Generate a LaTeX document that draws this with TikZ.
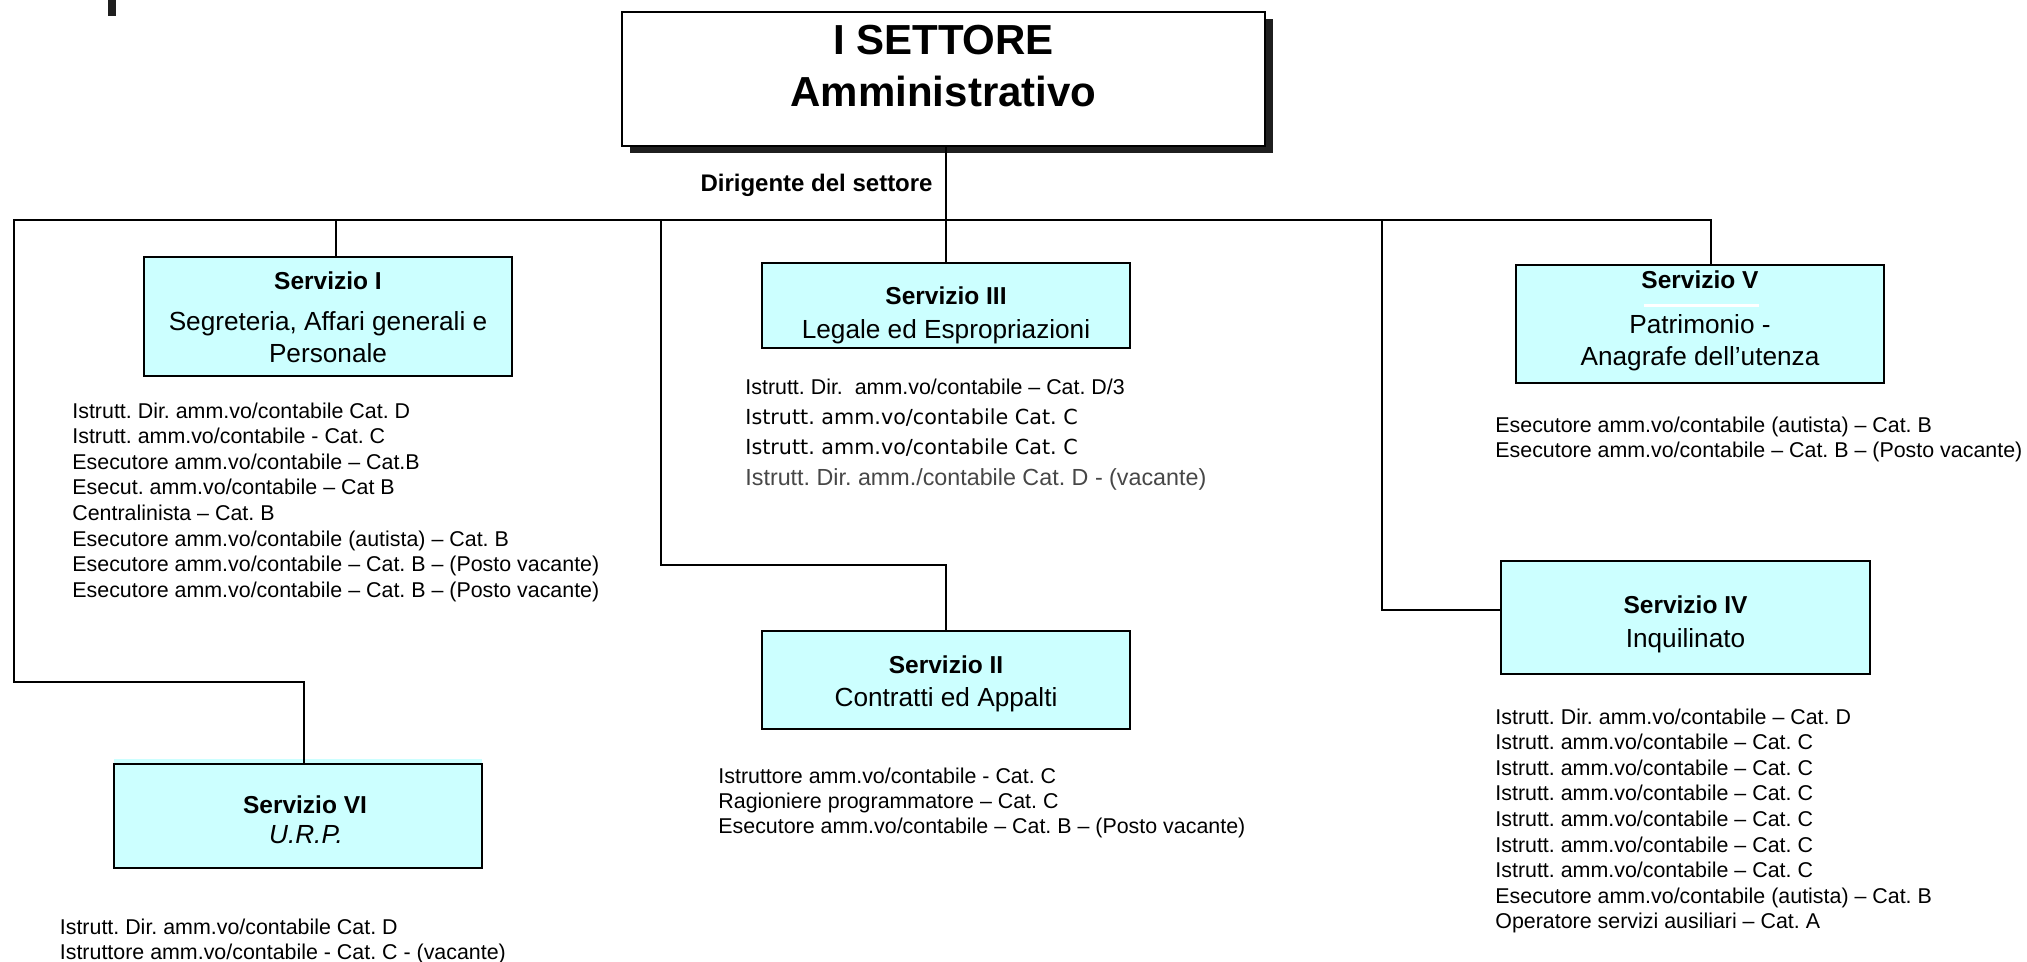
\documentclass[tikz,border=0pt]{standalone}
\usepackage{fontspec}
\setmainfont{Liberation Sans}
\newfontfamily\dejavu{DejaVu Sans}
\usetikzlibrary{shadows}
\definecolor{boxcyan}{HTML}{CCFFFF}
\frenchspacing
\begin{document}
\begin{tikzpicture}[x=0.5pt,y=-0.5pt,
  svcbox/.style={draw, line width=1.35pt, fill=boxcyan, inner sep=0pt, rectangle},
  lst/.style={anchor=base west, inner sep=0pt, font=\fontsize{10.7pt}{12pt}\selectfont},
  btitle/.style={anchor=base, inner sep=0pt, font=\bfseries\fontsize{12.25pt}{14pt}\selectfont},
  dtitle/.style={anchor=base, inner sep=0pt, font=\fontsize{13.1pt}{15pt}\selectfont},
  conn/.style={line width=1pt}]
\useasboundingbox (0,0) rectangle (2027,962);
\fill[black!88] (108,0) rectangle (116,16);

% top box
\node[draw, line width=1pt, fill=white, rectangle, inner sep=0pt,
      minimum width=321.5pt, minimum height=67pt,
      drop shadow={shadow xshift=4pt, shadow yshift=-3.5pt, fill=black!88, opacity=1}]
      (top) at (943.5,79) {};
\node[anchor=base, inner sep=0pt, font=\bfseries\fontsize{21pt}{24pt}\selectfont] (t1) at (943.5,55) {I SETTORE};
\node[anchor=base, inner sep=0pt, font=\bfseries\fontsize{21pt}{24pt}\selectfont] (t2) at (943.5,107) {Amministrativo};
\node[anchor=base east, inner sep=0pt, font=\bfseries\fontsize{12pt}{14pt}\selectfont] (dir) at (933,192) {Dirigente del settore};

% service boxes
\node[svcbox, minimum width=184pt, minimum height=59.5pt] (s1) at (328,316.5) {};
\node[svcbox, minimum width=184pt, minimum height=42.5pt] (s3) at (946,305.5) {};
\node[svcbox, minimum width=184pt, minimum height=59pt] (s5) at (1700,324) {};
\node[svcbox, minimum width=184pt, minimum height=49pt] (s2) at (946,680) {};
\node[svcbox, minimum width=184.5pt, minimum height=56.5pt] (s4) at (1685.5,617.5) {};
\fill[boxcyan] (114,759) rectangle (482,764);
\node[svcbox, minimum width=184pt, minimum height=52pt] (s6) at (298,816) {};

% connectors
\coordinate (bL) at (14,220);
\coordinate (bR) at (1711,220);
\coordinate (j1) at (336,220);
\coordinate (j2) at (661,220);
\coordinate (j4) at (1382,220);
\coordinate (k6) at (304,682);
\coordinate (k2) at (661,565);
\coordinate (k4) at (1382,610);
\draw[conn] (k6 |- s6.north) -- (k6) -| (bL) -- (bR) -- (bR |- s5.north);
\draw[conn] (top.south -| s3.north) -- (s3.north);
\draw[conn] (j1) -- (j1 |- s1.north);
\draw[conn] (j2) -- (k2) -| (s2.north);
\draw[conn] (j4) -- (k4) -- (k4 -| s4.west);

% box texts
\node[btitle] (s1a) at (328,290) {Servizio I};
\node[dtitle] (s1b) at (328,331) {Segreteria, Affari generali e};
\node[dtitle] (s1c) at (328,362.5) {Personale};
\node[btitle] (s3a) at (946,305) {Servizio III};
\node[dtitle] (s3b) at (946,338.5) {Legale ed Espropriazioni};
\node[btitle] (s5a) at (1700,289) {Servizio V};
\draw[white, line width=1.5pt] (1644,306) -- (1759,306);
\node[dtitle] (s5b) at (1700,333.5) {Patrimonio -};
\node[dtitle] (s5c) at (1700,365.5) {Anagrafe dell’utenza};
\node[btitle] (s2a) at (946,673) {Servizio II};
\node[dtitle] (s2b) at (946,706.5) {Contratti ed Appalti};
\node[btitle] (s4a) at (1685.5,613) {Servizio IV};
\node[dtitle] (s4b) at (1685.5,647.5) {Inquilinato};
\node[btitle] (s6a) at (305,813) {Servizio VI};
\node[dtitle] (s6b) at (298,843.5) {\itshape\phantom{- }U.R.P.};

% staff lists
\foreach \t [count=\i] in {Istrutt. Dir. amm.vo/contabile Cat. D,
  Istrutt. amm.vo/contabile - Cat. C,
  Esecutore amm.vo/contabile – Cat.B,
  Esecut. amm.vo/contabile – Cat B,
  Centralinista – Cat. B,
  Esecutore amm.vo/contabile (autista) – Cat. B,
  Esecutore amm.vo/contabile – Cat. B – (Posto vacante),
  Esecutore amm.vo/contabile – Cat. B – (Posto vacante)}
  \node[lst] (la\i) at (72,{418+25.6*(\i-1)}) {\t};

\node[lst] (lc1) at (745,394) {Istrutt. Dir.\ \ amm.vo/contabile – Cat. D/3};
\node[lst, font=\dejavu\fontsize{10.35pt}{12pt}\selectfont] (lc2) at (745,424) {Istrutt. amm.vo/contabile Cat. C};
\node[lst, font=\dejavu\fontsize{10.35pt}{12pt}\selectfont] (lc3) at (745,454) {Istrutt. amm.vo/contabile Cat. C};
\node[lst, font=\fontsize{11.65pt}{12pt}\selectfont, text=black!72] (lc4) at (745,485) {Istrutt. Dir. amm./contabile Cat. D - (vacante)};

\foreach \t [count=\i] in {Esecutore amm.vo/contabile (autista) – Cat. B,
  Esecutore amm.vo/contabile – Cat. B – (Posto vacante)}
  \node[lst] (le\i) at (1495,{432+25.6*(\i-1)}) {\t};

\foreach \t [count=\i] in {Istruttore amm.vo/contabile - Cat. C,
  Ragioniere programmatore – Cat. C,
  Esecutore amm.vo/contabile – Cat. B – (Posto vacante)}
  \node[lst] (lb\i) at (718,{783+25.4*(\i-1)}) {\t};

\foreach \t [count=\i] in {Istrutt. Dir. amm.vo/contabile – Cat. D,
  Istrutt. amm.vo/contabile – Cat. C,
  Istrutt. amm.vo/contabile – Cat. C,
  Istrutt. amm.vo/contabile – Cat. C,
  Istrutt. amm.vo/contabile – Cat. C,
  Istrutt. amm.vo/contabile – Cat. C,
  Istrutt. amm.vo/contabile – Cat. C,
  Esecutore amm.vo/contabile (autista) – Cat. B,
  Operatore servizi ausiliari – Cat. A}
  \node[lst] (ld\i) at (1495,{724+25.6*(\i-1)}) {\t};

\foreach \t [count=\i] in {Istrutt. Dir. amm.vo/contabile Cat. D,
  Istruttore amm.vo/contabile - Cat. C - (vacante)}
  \node[lst] (lf\i) at (59.5,{934+25.6*(\i-1)}) {\t};
\end{tikzpicture}
\end{document}
